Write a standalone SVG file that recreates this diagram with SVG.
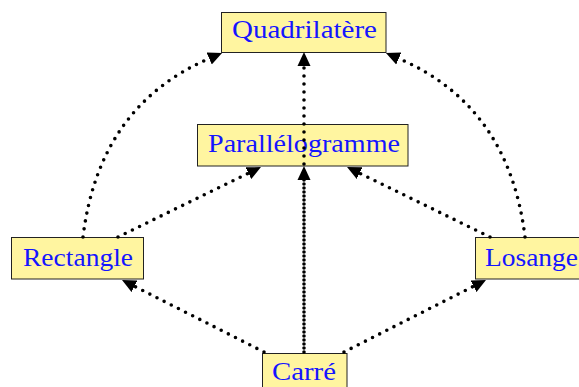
<svg xmlns="http://www.w3.org/2000/svg" width="579" height="387" viewBox="0 0 579 387">
<style>
.box{fill:#fff5a0;stroke:#222;stroke-width:1}
.lbl{font-family:"Liberation Serif","Times New Roman",serif;font-size:26px;fill:#1515ff}
.edge{fill:none;stroke:#000;stroke-width:3.6;stroke-linecap:round;stroke-dasharray:0 8}
</style>
<defs>
<marker id="ah" markerUnits="userSpaceOnUse" markerWidth="16" markerHeight="14" refX="0" refY="7" orient="auto" viewBox="0 0 16 14">
<path d="M0,0.5 L14,7 L0,13.5 z" fill="#000"/>
</marker>
</defs>
<rect width="579" height="387" fill="#fff"/>
<g id="node-quadrilatere">
<rect class="box" x="221.5" y="12.5" width="164.5" height="40"/>
<text class="lbl" x="232" y="37.5" textLength="145" lengthAdjust="spacingAndGlyphs">Quadrilatère</text>
</g>
<g id="node-parallelogramme">
<rect class="box" x="197.5" y="124.5" width="210.5" height="41.5"/>
<text class="lbl" x="208" y="151.5" textLength="192" lengthAdjust="spacingAndGlyphs">Parallélogramme</text>
</g>
<g id="node-rectangle">
<rect class="box" x="11.5" y="237.5" width="132" height="41.5"/>
<text class="lbl" x="23" y="265.5" textLength="110" lengthAdjust="spacingAndGlyphs">Rectangle</text>
</g>
<g id="node-losange">
<rect class="box" x="475.5" y="237.5" width="112" height="41.5"/>
<text class="lbl" x="485" y="265.5" textLength="93" lengthAdjust="spacingAndGlyphs">Losange</text>
</g>
<g id="node-carre">
<rect class="box" x="262.5" y="353.5" width="84.5" height="41.5"/>
<text class="lbl" x="272" y="379.5" textLength="64" lengthAdjust="spacingAndGlyphs">Carré</text>
</g>
<g id="connectors">
<path class="edge" d="M264,352 L134.5,286.3" marker-end="url(#ah)"/>
<path class="edge" d="M344,352 L473.5,286.3" marker-end="url(#ah)"/>
<path class="edge" d="M304,352 L304,180" marker-end="url(#ah)"/>
<path class="edge" d="M304,348 L304,66" marker-end="url(#ah)"/>
<path class="edge" d="M118,237 L248.4,173.2" marker-end="url(#ah)"/>
<path class="edge" d="M490,237 L359.6,173.2" marker-end="url(#ah)"/>
<path class="edge" d="M83,237 Q99,106 209.2,58.5" marker-end="url(#ah)"/>
<path class="edge" d="M525,237 Q509,106 398.8,58.5" marker-end="url(#ah)"/>
</g>
</svg>
